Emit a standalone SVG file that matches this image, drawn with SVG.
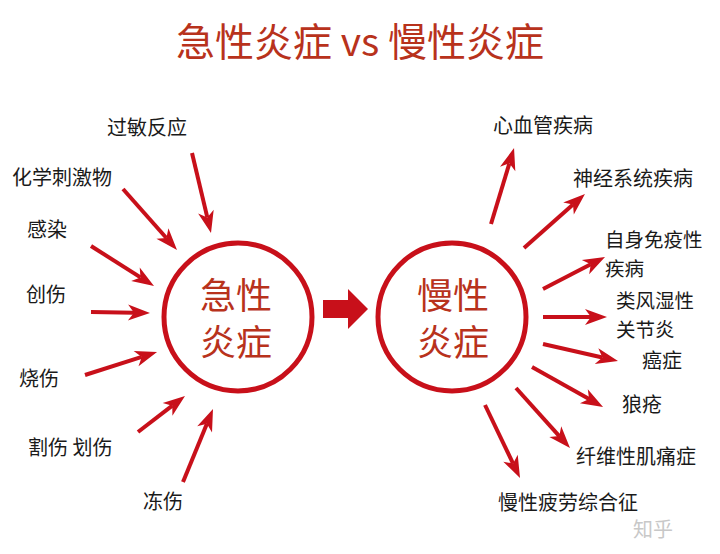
<svg xmlns="http://www.w3.org/2000/svg" width="720" height="554" viewBox="0 0 720 554">
<style>
.title{font-family:"Noto Sans CJK SC","Noto Sans",sans-serif;font-size:39px;fill:#b8321c;text-anchor:middle}
.ctext{font-family:"Noto Sans CJK SC",sans-serif;font-size:36px;fill:#b8321c;text-anchor:middle}
.lbl{font-family:"Noto Sans CJK SC",sans-serif;font-size:20px;fill:#1a1a1a}
.lbl2{font-family:"Noto Sans CJK SC",sans-serif;font-size:19.5px;fill:#1a1a1a}
.circ{fill:none;stroke:#c8101a;stroke-width:5}
.arr{stroke:#c8101a;stroke-width:4;fill:none;marker-end:url(#ah)}
.wm{font-family:"Noto Sans CJK SC",sans-serif;font-size:20px;fill:#c8c8c8}
</style>
<defs>
<marker id="ah" markerUnits="userSpaceOnUse" markerWidth="22" markerHeight="16" refX="6" refY="8" orient="auto" overflow="visible">
<path d="M0,0 L22,8 L0,16 L6,8 z" fill="#c8101a"/>
</marker>
</defs>
<rect width="720" height="554" fill="#ffffff"/>
<text class="title" x="360" y="56">急性炎症 vs 慢性炎症</text>

<g id="acute">
<circle class="circ" cx="238" cy="317" r="74"/>
<text class="ctext" x="236" y="309">急性</text>
<text class="ctext" x="236" y="356">炎症</text>
</g>
<g id="chronic">
<circle class="circ" cx="452" cy="317" r="74"/>
<text class="ctext" x="453" y="309">慢性</text>
<text class="ctext" x="453" y="356">炎症</text>
</g>
<g id="bigarrow">
<path d="M323,300 L348,300 L348,289 L368,309 L348,329 L348,318 L323,318 z" fill="#c8101a"/>
</g>

<g id="n-allergy"><text class="lbl" x="107" y="135">过敏反应</text></g>
<g id="n-chem"><text class="lbl" x="12" y="185">化学刺激物</text></g>
<g id="n-infect"><text class="lbl" x="27" y="237">感染</text></g>
<g id="n-trauma"><text class="lbl" x="26" y="302">创伤</text></g>
<g id="n-burn"><text class="lbl" x="19" y="386">烧伤</text></g>
<g id="n-cut"><text class="lbl" x="28" y="455">割伤 划伤</text></g>
<g id="n-frost"><text class="lbl" x="143" y="509">冻伤</text></g>

<g id="n-cardio"><text class="lbl" x="493" y="133">心血管疾病</text></g>
<g id="n-neuro"><text class="lbl" x="573" y="186">神经系统疾病</text></g>
<g id="n-auto"><text class="lbl2" x="605" y="247">自身免疫性<tspan x="605" dy="28.5">疾病</tspan></text></g>
<g id="n-ra"><text class="lbl2" x="616" y="308">类风湿性<tspan x="616" dy="28.5">关节炎</tspan></text></g>
<g id="n-cancer"><text class="lbl" x="642" y="368">癌症</text></g>
<g id="n-lupus"><text class="lbl" x="622" y="412">狼疮</text></g>
<g id="n-fibro"><text class="lbl" x="576" y="464">纤维性肌痛症</text></g>
<g id="n-cfs"><text class="lbl" x="498" y="510">慢性疲劳综合征</text></g>

<g id="connectors">
<line class="arr" x1="192" y1="153" x2="207.3" y2="217.4"/>
<line class="arr" x1="123" y1="189" x2="166.4" y2="238"/>
<line class="arr" x1="91" y1="246" x2="140.5" y2="277.4"/>
<line class="arr" x1="91" y1="312" x2="134" y2="312.7"/>
<line class="arr" x1="85" y1="375" x2="141.8" y2="356.9"/>
<line class="arr" x1="138" y1="432" x2="172.3" y2="405.7"/>
<line class="arr" x1="183" y1="482" x2="206.9" y2="423.8"/>

<line class="arr" x1="491" y1="224" x2="509.4" y2="163.3"/>
<line class="arr" x1="524" y1="248" x2="573" y2="204.6"/>
<line class="arr" x1="543" y1="289" x2="590.8" y2="264.3"/>
<line class="arr" x1="543" y1="317" x2="591" y2="317"/>
<line class="arr" x1="543" y1="344" x2="602.4" y2="357.5"/>
<line class="arr" x1="532" y1="367" x2="589.1" y2="399.1"/>
<line class="arr" x1="516" y1="388" x2="559.3" y2="436.1"/>
<line class="arr" x1="485" y1="405" x2="513.1" y2="463.6"/>
</g>
<text class="wm" x="633" y="537">知乎</text>
</svg>
